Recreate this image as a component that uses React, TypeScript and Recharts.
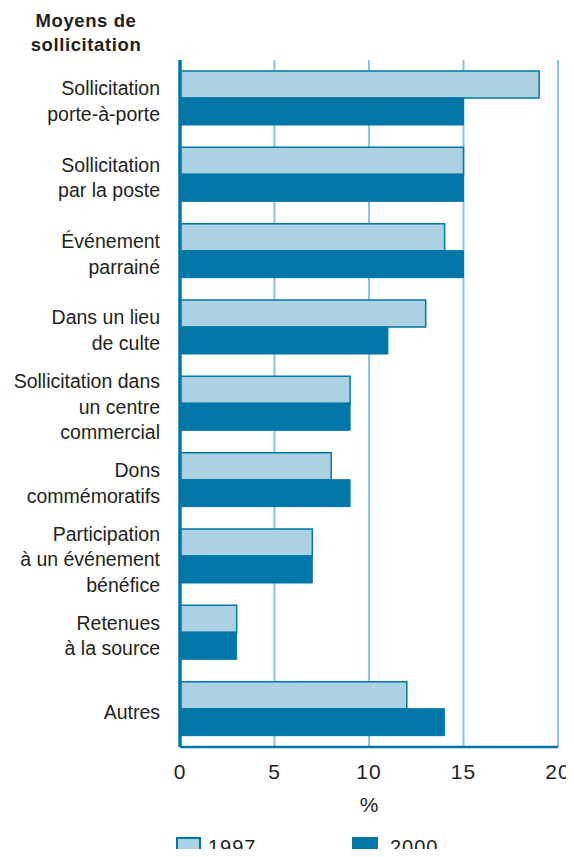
import React from 'react';
import { BarChart, Bar, XAxis, YAxis, CartesianGrid } from 'recharts';

const categories = [
  'Sollicitation\nporte-à-porte',
  'Sollicitation\npar la poste',
  'Événement\nparrainé',
  'Dans un lieu\nde culte',
  'Sollicitation dans\nun centre\ncommercial',
  'Dons\ncommémoratifs',
  'Participation\nà un événement\nbénéfice',
  'Retenues\nà la source',
  'Autres',
];
const values1997 = [19, 15, 14, 13, 9, 8, 7, 3, 12];
const values2000 = [15, 15, 15, 11, 9, 9, 7, 3, 14];
const xTicks = [0, 5, 10, 15, 20];
const seriesNames = ['1997', '2000'];

const data = categories.map((c, i) => ({ name: c, v1997: values1997[i], v2000: values2000[i] }));

const DARK = '#0077a8';
const LIGHT = '#abd1e3';
const GRID = '#8cc4e0';
const FONT = '"Liberation Sans", Arial, sans-serif';
const TEXT = '#231f20';

const CatTick = (props: any) => {
  const { x, y, payload } = props;
  const lines = String(payload.value).split('\n');
  const lh = 25.5;
  const start = y + 3 - ((lines.length - 1) / 2) * lh;
  return (
    <text x={x} y={start} textAnchor="end" fill={TEXT} fontFamily={FONT} fontSize={19.5}>
      {lines.map((l, i) => (
        <tspan key={i} x={x} y={start + i * lh} dy="0.36em">{l}</tspan>
      ))}
    </text>
  );
};

const NumTick = (props: any) => {
  const { x, y, payload } = props;
  return (
    <text x={x} y={y} textAnchor="middle" fill={TEXT} fontFamily={FONT} fontSize={21} letterSpacing={1} dy="0.71em">
      {payload.value}
    </text>
  );
};

export default function App() {
  return (
    <div style={{ position: 'relative', width: 558, height: 841 }}>
      <div
        style={{
          position: 'absolute',
          left: 0,
          top: 1,
          width: 156,
          textAlign: 'center',
          fontFamily: FONT,
          fontWeight: 'bold',
          fontSize: 18.5,
          letterSpacing: 0.6,
          lineHeight: '24px',
          color: TEXT,
        }}
      >
        Moyens de
        <br />
        sollicitation
      </div>
      <BarChart
        width={566}
        height={810}
        data={data}
        layout="vertical"
        margin={{ top: 52, right: 16, left: 0, bottom: 0 }}
        barGap={0}
      >
        <CartesianGrid horizontal={false} vertical={true} stroke={GRID} strokeWidth={2} />
        <XAxis
          type="number"
          domain={[0, 20]}
          ticks={xTicks}
          tickLine={false}
          tickSize={0}
          tickMargin={17}
          axisLine={{ stroke: DARK, strokeWidth: 2.5 }}
          tick={<NumTick />}
          height={71}
          interval={0}
          label={{ value: '%', position: 'insideBottom', offset: 6, fill: TEXT, fontFamily: FONT, fontSize: 21 }}
        />
        <XAxis
          xAxisId="top"
          orientation="top"
          type="number"
          domain={[0, 20]}
          ticks={xTicks}
          tick={false}
          tickLine={false}
          height={0}
          axisLine={{ stroke: DARK, strokeWidth: 2 }}
        />
        <YAxis
          type="category"
          dataKey="name"
          width={172}
          tickLine={false}
          tickSize={0}
          tickMargin={20}
          axisLine={{ stroke: DARK, strokeWidth: 3.5 }}
          tick={<CatTick />}
          interval={0}
        />
        <YAxis
          yAxisId="right"
          orientation="right"
          type="category"
          dataKey="name"
          width={0}
          tick={false}
          tickLine={false}
          axisLine={{ stroke: DARK, strokeWidth: 2.5 }}
        />
        <Bar dataKey="v1997" name={seriesNames[0]} fill={LIGHT} stroke={DARK} strokeWidth={1.5} barSize={27} isAnimationActive={false} />
        <Bar dataKey="v2000" name={seriesNames[1]} fill={DARK} stroke={DARK} strokeWidth={1} barSize={27} isAnimationActive={false} />
      </BarChart>
      <div style={{ position: 'absolute', left: 0, top: 829, width: 558, height: 20, overflow: 'hidden' }}>
        <div style={{ position: 'absolute', left: 168, top: 0, width: 21, height: 30, background: LIGHT, border: `2px solid ${DARK}` }} />
        <div
          style={{ position: 'absolute', left: 200, top: 2, fontFamily: FONT, fontSize: 20, letterSpacing: 1, color: TEXT, lineHeight: '16px' }}
        >
          {seriesNames[0]}
        </div>
        <div style={{ position: 'absolute', left: 344, top: 0, width: 22, height: 30, background: DARK, border: `2px solid ${DARK}` }} />
        <div
          style={{ position: 'absolute', left: 382, top: 2, fontFamily: FONT, fontSize: 20, letterSpacing: 1, color: TEXT, lineHeight: '16px' }}
        >
          {seriesNames[1]}
        </div>
      </div>
    </div>
  );
}
